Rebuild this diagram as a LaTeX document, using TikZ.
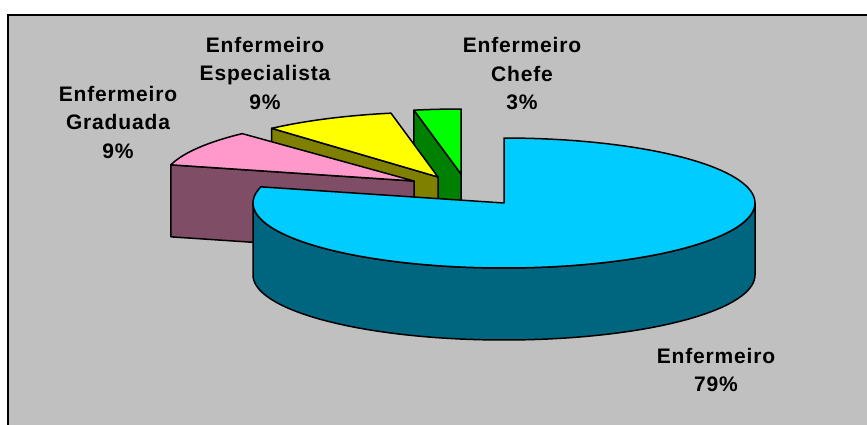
\documentclass[tikz,border=0pt]{standalone}
\usepackage{fontspec}
\setmainfont[LetterSpace=4]{Liberation Sans}
\begin{document}
\begin{tikzpicture}[x=1pt,y=-1pt,
  slice/.style={draw=black,line width=1.5pt,line join=round},
  lbl/.style={align=center,inner sep=0pt,font=\bfseries\fontsize{21}{28.5}\selectfont}]
\definecolor{bggray}{RGB}{192,192,192}
\definecolor{cyantop}{RGB}{0,204,255}
\definecolor{cyanside}{RGB}{0,102,128}
\definecolor{pinktop}{RGB}{255,153,204}
\definecolor{pinkside}{RGB}{128,77,102}
\definecolor{yeltop}{RGB}{255,255,0}
\definecolor{yelside}{RGB}{128,128,0}
\definecolor{grntop}{RGB}{0,255,0}
\definecolor{grnside}{RGB}{0,128,0}
\def\cx{504}\def\cy{203}\def\rx{251}\def\ry{65}\def\dep{72}
\useasboundingbox (0,0) rectangle (867,424);
\clip (0,0) rectangle (867,424);
\fill[white] (0,0) rectangle (867,424);
\draw[line width=2pt,fill=bggray] (8,15) rectangle (890,450);
% Chefe slice (green)
\begin{scope}[shift={(-43,-29)}]
  \filldraw[slice,fill=grnside] ({\cx+\rx*cos(100.8)},{\cy-\ry*sin(100.8)}) -- (\cx,\cy) -- (\cx,\cy+\dep) -- ({\cx+\rx*cos(100.8)},{\cy+\dep-\ry*sin(100.8)}) -- cycle;
  \filldraw[slice,fill=grntop] (\cx,\cy) -- plot[domain=100.8:90,samples=8] ({\cx+\rx*cos(\x)},{\cy-\ry*sin(\x)}) -- cycle;
\end{scope}
% Especialista slice (yellow)
\begin{scope}[shift={(-66,-26)}]
  \filldraw[slice,fill=yelside] ({\cx+\rx*cos(131.5)},{\cy-\ry*sin(131.5)}) -- (\cx,\cy) -- (\cx,\cy+\dep) -- ({\cx+\rx*cos(131.5)},{\cy+\dep-\ry*sin(131.5)}) -- cycle;
  \filldraw[slice,fill=yeltop] (\cx,\cy) -- plot[domain=131.5:100.8,samples=20] ({\cx+\rx*cos(\x)},{\cy-\ry*sin(\x)}) -- cycle;
\end{scope}
% Graduada slice (pink)
\begin{scope}[shift={(-90,-22)}]
  \filldraw[slice,fill=pinkside] ({\cx+\rx*cos(165.6)},{\cy-\ry*sin(165.6)}) -- (\cx,\cy) -- (\cx,\cy+\dep) -- ({\cx+\rx*cos(165.6)},{\cy+\dep-\ry*sin(165.6)}) -- cycle;
  \filldraw[slice,fill=pinktop] (\cx,\cy) -- plot[domain=165.6:133.2,samples=20] ({\cx+\rx*cos(\x)},{\cy-\ry*sin(\x)}) -- cycle;
\end{scope}
% Enfermeiro slice (cyan)
\filldraw[slice,fill=cyanside] plot[domain=180:360,samples=80] ({\cx+\rx*cos(\x)},{\cy-\ry*sin(\x)}) -- plot[domain=360:180,samples=80] ({\cx+\rx*cos(\x)},{\cy+\dep-\ry*sin(\x)}) -- cycle;
\filldraw[slice,fill=cyantop] (\cx,\cy) -- (\cx,\cy-\ry) -- plot[domain=90:-194.4,samples=120] ({\cx+\rx*cos(\x)},{\cy-\ry*sin(\x)}) -- cycle;
% labels
\node[lbl] (lgrad) at (118,122) {Enfermeiro\\Graduada\\9\%};
\node[lbl] (lesp) at (265,73) {Enfermeiro\\Especialista\\9\%};
\node[lbl] (lchef) at (522,74) {Enfermeiro\\Chefe\\3\%};
\node[lbl] (lenf) at (716,370) {Enfermeiro\\79\%};
\end{tikzpicture}
\end{document}
